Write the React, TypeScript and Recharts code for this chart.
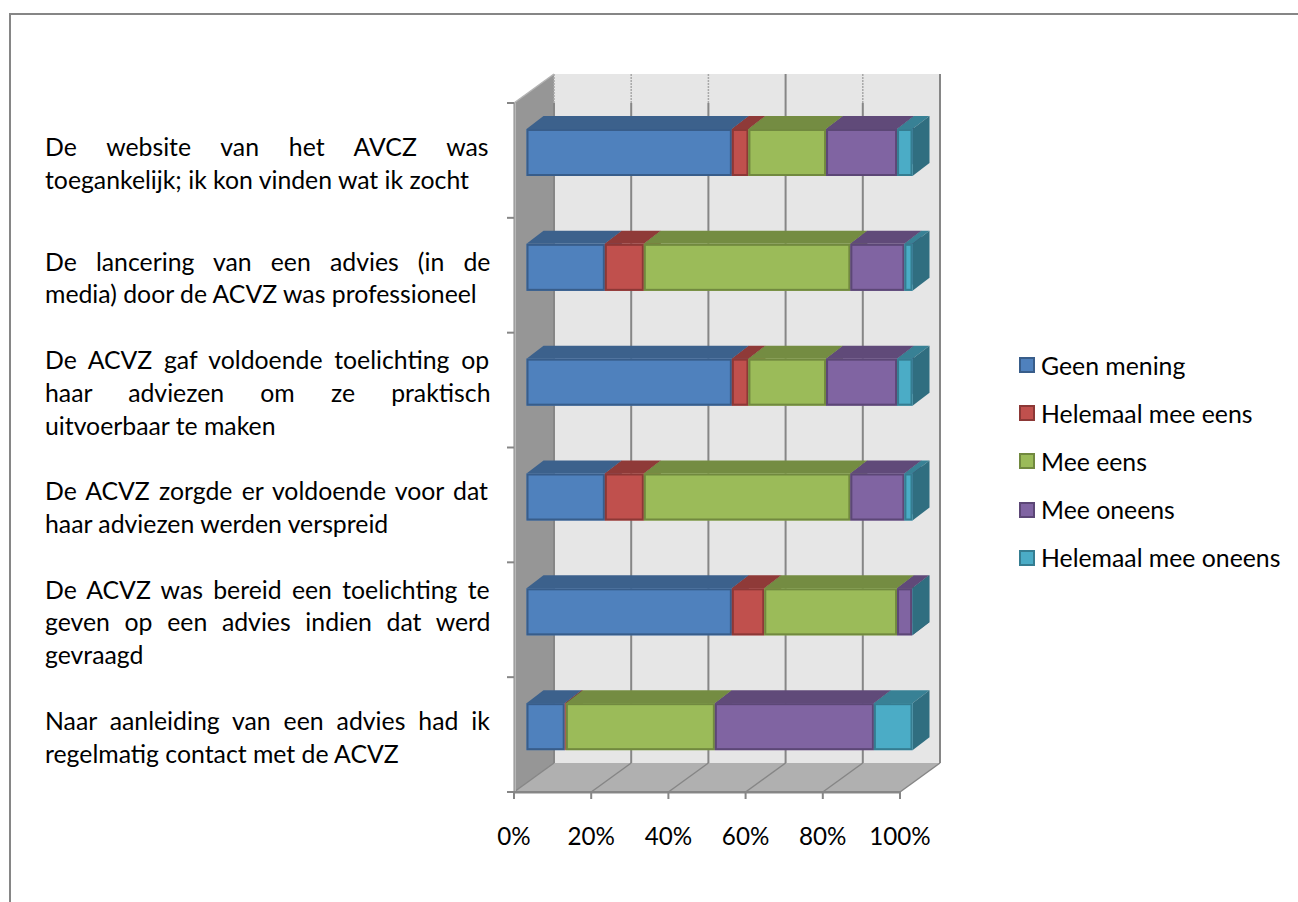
import React from "react";
import { BarChart, Bar, XAxis, YAxis, Legend } from "recharts";

const categoryLines: string[][] = [
  ["De website van het AVCZ was", "toegankelijk; ik kon vinden wat ik zocht"],
  ["De lancering van een advies (in de", "media) door de ACVZ was professioneel"],
  ["De ACVZ gaf voldoende toelichting op", "haar adviezen om ze praktisch", "uitvoerbaar te maken"],
  ["De ACVZ zorgde er voldoende voor dat", "haar adviezen werden verspreid"],
  ["De ACVZ was bereid een toelichting te", "geven op een advies indien dat werd", "gevraagd"],
  ["Naar aanleiding van een advies had ik", "regelmatig contact met de ACVZ"],
];
const categories = categoryLines.map((l) => l.join(" "));

const geenMening = [53.2, 20.3, 53.2, 20.3, 53.2, 9.9];
const helemaalMeeEens = [4.3, 10.1, 4.3, 10.1, 8.4, 0.3];
const meeEens = [20.1, 53.5, 20.1, 53.5, 34.4, 38.6];
const meeOneens = [18.4, 14.0, 18.4, 14.0, 3.9, 41.2];
const helemaalMeeOneens = [4.0, 2.1, 4.0, 2.1, 0.1, 10.0];

const xTicks = [0, 20, 40, 60, 80, 100];

const seriesDefs = [
  { key: "geen", name: "Geen mening", values: geenMening, front: "#4F81BD", edge: "#385D8A", top: "#3C618C", side: "#30527A" },
  { key: "eens2", name: "Helemaal mee eens", values: helemaalMeeEens, front: "#C0504D", edge: "#8C3836", top: "#8F3A38", side: "#7A3230" },
  { key: "eens", name: "Mee eens", values: meeEens, front: "#9BBB59", edge: "#71893F", top: "#748C42", side: "#627638" },
  { key: "oneens", name: "Mee oneens", values: meeOneens, front: "#8064A2", edge: "#5C4776", top: "#604A79", side: "#513F66" },
  { key: "oneens2", name: "Helemaal mee oneens", values: helemaalMeeOneens, front: "#4BACC6", edge: "#357D91", top: "#388195", side: "#306E80" },
];

const rows = categories.map((c, i) => {
  const row: Record<string, string | number> = { category: c };
  seriesDefs.forEach((s) => {
    row[s.key] = s.values[i];
  });
  return row;
});

const W = 1298;
const H = 902;
const PLOT = { left: 514, top: 103, right: 900, bottom: 792 };
const DEPTH = { dx: 40, dy: -29 };
const BAR_SHIFT = { dx: 12.5, dy: -8 };
const BAR_DEPTH = { dx: 17, dy: -13 };
const LEGEND_W = 270;
const FONT = "Lato, Carlito, sans-serif";
const FONT_SIZE = 24.8;
const TICK_FONT_SIZE = 24.2;
const GRID = "#868686";

const pt = (...a: number[]) => {
  const out: string[] = [];
  for (let i = 0; i < a.length; i += 2) out.push(`${a[i]},${a[i + 1]}`);
  return out.join(" ");
};

function makeBarShape(def: (typeof seriesDefs)[number]) {
  return function BarShape(props: any) {
    const x = props.x + BAR_SHIFT.dx;
    const y = props.y + BAR_SHIFT.dy;
    const w = props.width;
    const h = props.height;
    const { dx, dy } = BAR_DEPTH;
    return (
      <g>
        <polygon points={pt(x, y, x + dx, y + dy, x + w + dx, y + dy, x + w, y)} fill={def.top} />
        <polygon points={pt(x + w, y, x + w + dx, y + dy, x + w + dx, y + h + dy, x + w, y + h)} fill={def.side} />
        <rect x={x} y={y} width={w} height={h} fill={def.front} />
        <rect x={x + 1} y={y + 1} width={Math.max(w - 2, 0)} height={h - 2} fill="none" stroke={def.edge} strokeWidth={2} />
      </g>
    );
  };
}

function Walls() {
  const { left: l, top: t, right: r, bottom: b } = PLOT;
  const { dx, dy } = DEPTH;
  const step = (r - l) / (xTicks.length - 1);
  const band = (b - t) / categories.length;
  return (
    <g>
      <rect x={l + dx} y={t + dy} width={r - l} height={b - t} fill="#E6E6E6" />
      <polygon points={pt(l, t, l + dx, t + dy, l + dx, b + dy, l, b)} fill="#969696" />
      <polygon points={pt(l, b, l + dx, b + dy, r + dx, b + dy, r, b)} fill="#B0B0B0" />
      {xTicks.map((v, i) => {
        const x0 = l + i * step;
        const x1 = x0 + dx;
        return (
          <g key={v}>
            <line x1={x1} y1={t} x2={x1} y2={b + dy} stroke={GRID} strokeWidth={2} />
            <line
              x1={x1}
              y1={t + dy}
              x2={x1}
              y2={t}
              stroke={i === 5 || i === 3 ? GRID : "#A8A8A8"}
              strokeWidth={i === 5 || i === 3 ? 2 : 1.5}
              strokeDasharray={i === 5 || i === 3 ? undefined : "2 1"}
            />
            <line x1={x0} y1={b} x2={x1} y2={b + dy} stroke={GRID} strokeWidth={1.5} />
          </g>
        );
      })}
      <polyline points={pt(l, t, l + dx, t + dy)} fill="none" stroke="#B4B4B4" strokeWidth={1.5} />
      <line x1={l + 1} y1={t} x2={l + 1} y2={b} stroke="#B8B8B8" strokeWidth={2} />
      <line x1={l} y1={t} x2={l} y2={b} stroke={GRID} strokeWidth={1} />
      <line x1={l} y1={b} x2={r} y2={b} stroke={GRID} strokeWidth={2} />
      <line x1={l} y1={b + 1.5} x2={r} y2={b + 1.5} stroke="#C4C4C4" strokeWidth={1} />
      {categories.map((_, i) => (
        <line key={i} x1={l - 7} y1={t + i * band} x2={l} y2={t + i * band} stroke={GRID} strokeWidth={2} />
      ))}
      <line x1={l - 7} y1={b} x2={l} y2={b} stroke={GRID} strokeWidth={2} />
    </g>
  );
}

let measureCtx: CanvasRenderingContext2D | null = null;
function measure(s: string) {
  if (!measureCtx) measureCtx = document.createElement("canvas").getContext("2d");
  measureCtx!.font = `${FONT_SIZE}px ${FONT}`;
  return measureCtx!.measureText(s).width;
}

const LABEL_LEFT = 45;
const LABEL_WIDTH = 446;
const LINE_H = 32.8;

function CategoryTick(props: any) {
  const { y, payload } = props;
  const idx = categories.indexOf(payload.value);
  const lines = categoryLines[idx] ?? [];
  const y0 = y + 3.7 - ((lines.length - 1) * LINE_H) / 2 + 8;
  return (
    <g>
      {lines.map((line, i) => {
        const words = line.split(" ");
        const last = i === lines.length - 1;
        const gap = !last && words.length > 1 ? (LABEL_WIDTH - measure(line)) / (words.length - 1) : 0;
        return (
          <text
            key={i}
            x={LABEL_LEFT}
            y={y0 + i * LINE_H}
            fontFamily={FONT}
            fontSize={FONT_SIZE}
            fill="#000"
            style={{ wordSpacing: `${gap}px` }}
          >
            {line}
          </text>
        );
      })}
    </g>
  );
}

function LegendBox(props: any) {
  const items = (props.payload ?? []) as any[];
  return (
    <div style={{ fontFamily: FONT, fontSize: FONT_SIZE, color: "#000" }}>
      {items.map((it) => {
        const def = seriesDefs.find((s) => s.name === it.value)!;
        return (
          <div key={it.value} style={{ display: "flex", alignItems: "center", height: 48.2, whiteSpace: "nowrap" }}>
            <span
              style={{
                display: "inline-block",
                boxSizing: "border-box",
                width: 16,
                height: 16,
                marginRight: 6,
                background: def.front,
                border: `2px solid ${def.edge}`,
              }}
            />
            <span>{it.value}</span>
          </div>
        );
      })}
    </div>
  );
}

export default function App() {
  return (
    <div style={{ position: "absolute", left: 0, top: 0, width: W, height: H, overflow: "hidden", background: "#fff" }}>
      <div
        style={{
          position: "absolute",
          left: 9,
          top: 13,
          right: 0,
          bottom: 0,
          borderLeft: "2px solid #868686",
          borderTop: "2px solid #868686",
        }}
      />
      <BarChart
        width={W}
        height={H}
        data={rows}
        layout="vertical"
        stackOffset="none"
        barCategoryGap={0}
        barSize={47}
        margin={{ top: PLOT.top, bottom: 0, left: 0, right: W - PLOT.right - LEGEND_W }}
        style={{ position: "absolute", left: 0, top: 0 }}
      >
        <Walls />
        <XAxis
          type="number"
          domain={[0, 100]}
          ticks={xTicks}
          interval={0}
          tickFormatter={(v: number) => `${v}%`}
          axisLine={false}
          tickLine={{ stroke: GRID, strokeWidth: 2 }}
          tickSize={7}
          tickMargin={29}
          height={H - PLOT.bottom}
          tick={{ fontFamily: FONT, fontSize: TICK_FONT_SIZE, fill: "#000" }}
        />
        <YAxis
          type="category"
          dataKey="category"
          width={PLOT.left}
          interval={0}
          axisLine={false}
          tickLine={false}
          tick={<CategoryTick />}
        />
        {seriesDefs.map((s) => (
          <Bar
            key={s.key}
            dataKey={s.key}
            name={s.name}
            stackId="a"
            fill={s.front}
            isAnimationActive={false}
            shape={makeBarShape(s)}
          />
        ))}
        <Legend
          layout="vertical"
          verticalAlign="top"
          align="right"
          itemSorter={null}
          content={<LegendBox />}
          wrapperStyle={{ position: "absolute", left: 1019, top: 341, width: LEGEND_W }}
        />
      </BarChart>
    </div>
  );
}
